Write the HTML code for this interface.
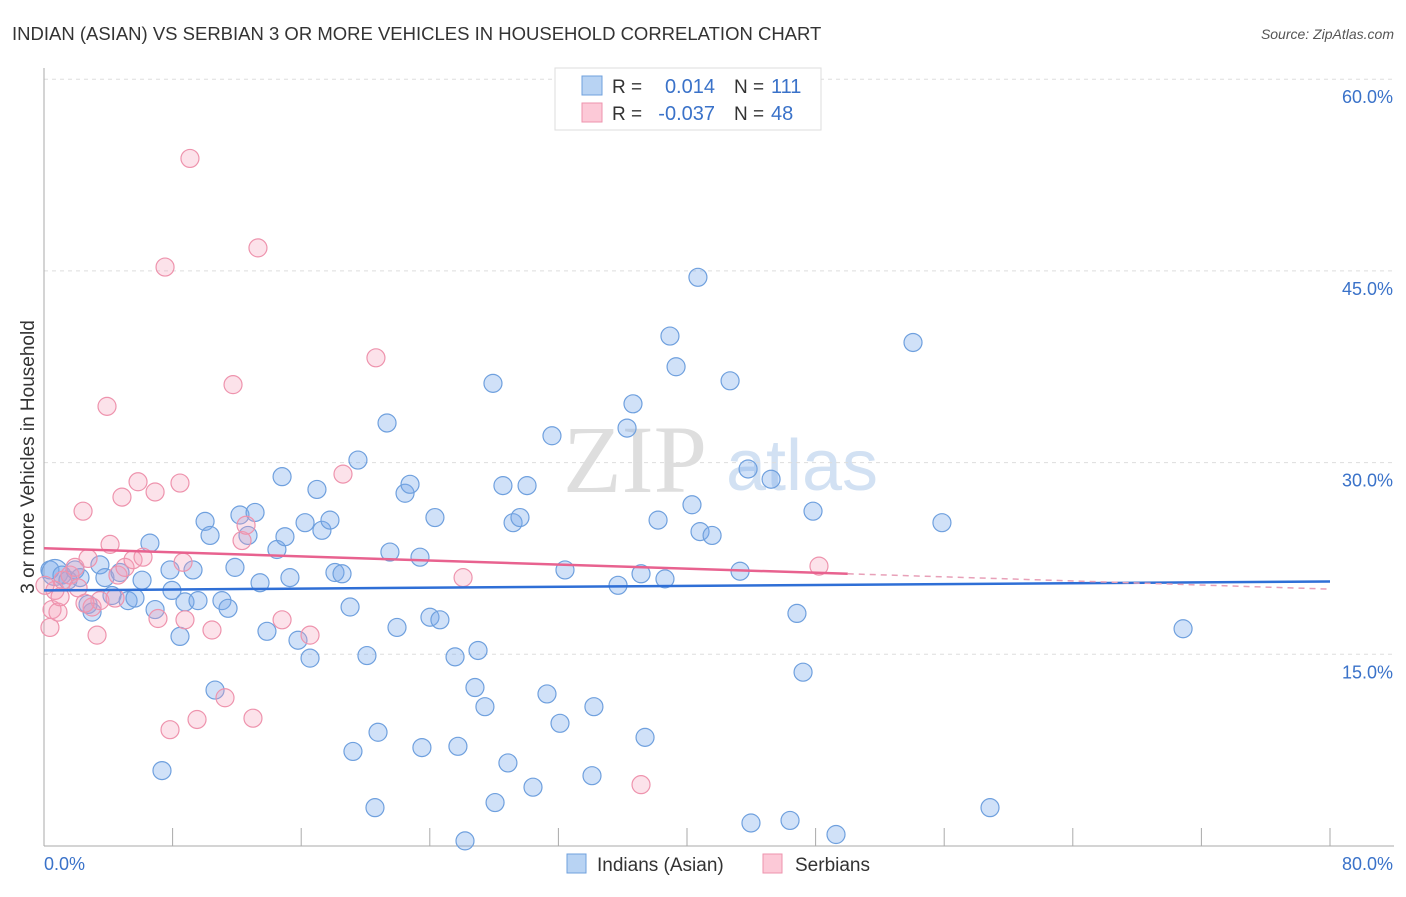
<!DOCTYPE html>
<html><head><meta charset="utf-8"><style>
body{margin:0;background:#fff;font-family:"Liberation Sans",sans-serif}
</style></head><body>
<svg id="c" width="1406" height="892" xmlns="http://www.w3.org/2000/svg" style="font-family:'Liberation Sans',sans-serif">
<text x="12" y="40" font-size="18.5" fill="#333">INDIAN (ASIAN) VS SERBIAN 3 OR MORE VEHICLES IN HOUSEHOLD CORRELATION CHART</text>
<text x="1394" y="39" font-size="14" fill="#555" font-style="italic" text-anchor="end">Source: ZipAtlas.com</text>
<g><text x="635" y="492" font-size="96" fill="#dedede" text-anchor="middle" font-family="Liberation Serif">ZIP</text><text x="802" y="490" font-size="72" fill="#d2e1f3" text-anchor="middle">atlas</text></g>
<g id="grid"></g><g id="axes"></g><g id="pts"></g><g id="trend"></g>
<text transform="translate(34,457) rotate(-90)" font-size="19" fill="#333" text-anchor="middle">3 or more Vehicles in Household</text>
<g>
<rect x="555" y="68" width="266" height="62" fill="#fff" stroke="#ddd"/>
<rect x="582" y="76" width="20" height="19" fill="#b8d3f3" stroke="#6fa0de"/>
<rect x="582" y="103" width="20" height="19" fill="#fcc9d7" stroke="#ee93ad"/>
<text x="612" y="93" font-size="19" fill="#333">R =</text><text x="715" y="93" font-size="20" fill="#3a72c9" text-anchor="end">0.014</text>
<text x="734" y="93" font-size="19" fill="#333">N =</text><text x="771" y="93" font-size="20" fill="#3a72c9">111</text>
<text x="612" y="120" font-size="19" fill="#333">R =</text><text x="715" y="120" font-size="20" fill="#3a72c9" text-anchor="end">-0.037</text>
<text x="734" y="120" font-size="19" fill="#333">N =</text><text x="771" y="120" font-size="20" fill="#3a72c9">48</text>
</g>
<g>
<rect x="567" y="854" width="19" height="19" fill="#b8d3f3" stroke="#6fa0de"/>
<text x="597" y="871" font-size="19" fill="#333">Indians (Asian)</text>
<rect x="763" y="854" width="19" height="19" fill="#fcc9d7" stroke="#ee93ad"/>
<text x="795" y="871" font-size="19" fill="#333">Serbians</text>
</g>
</svg>
<script>
const blueX=[0.37,0.68,1.12,1.49,1.93,2.24,2.74,2.99,3.48,3.79,4.23,4.73,5.23,5.66,6.10,6.59,6.91,7.34,7.84,7.96,8.46,8.77,9.27,9.58,10.02,10.33,10.64,11.07,11.45,11.88,12.19,12.69,13.13,13.44,13.87,14.49,14.81,14.99,15.30,15.80,16.24,16.55,16.98,17.29,17.79,18.10,18.54,19.04,19.22,19.53,20.09,20.59,20.78,21.34,21.52,21.96,22.46,22.77,23.39,23.51,24.01,24.32,24.63,25.57,25.75,26.19,26.81,27.00,27.43,27.93,28.06,28.55,28.86,29.18,29.61,30.05,30.42,31.29,31.60,32.10,32.41,34.21,34.09,35.71,36.27,36.64,37.14,37.39,38.20,38.63,38.94,39.32,40.31,40.68,40.81,41.56,42.68,43.30,43.80,43.98,45.23,46.41,46.84,47.22,47.84,49.27,54.06,55.86,58.85,70.86];
const blueY=[21.6,21.4,21.2,20.8,21.6,21.0,18.9,18.3,22.0,21.0,19.6,21.4,19.2,19.4,20.8,23.7,18.5,5.9,21.6,20.0,16.4,19.1,21.6,19.2,25.4,24.3,12.2,19.2,18.6,21.8,25.9,24.3,26.1,20.6,16.8,23.2,28.9,24.2,21.0,16.1,25.3,14.7,27.9,24.7,25.5,21.4,21.3,18.7,7.4,30.2,14.9,3.0,8.9,33.1,23.0,17.1,27.6,28.3,22.6,7.7,17.9,25.7,17.7,14.8,7.8,0.4,12.4,15.3,10.9,36.2,3.4,28.2,6.5,25.3,25.7,28.2,4.6,11.9,32.1,9.6,21.6,10.9,5.5,20.4,32.7,34.6,21.3,8.5,25.5,20.9,39.9,37.5,26.7,44.5,24.6,24.3,36.4,21.5,29.5,1.8,28.7,2.0,18.2,13.6,26.2,0.9,39.4,25.3,3.0,17.0];
const pinkX=[0.37,0.50,0.68,0.87,1.18,1.62,1.93,2.12,2.43,2.74,2.99,3.30,3.48,3.92,4.11,4.42,4.60,4.85,5.04,5.54,5.85,6.16,6.91,7.09,7.53,7.84,8.46,8.65,8.77,9.08,9.52,10.45,11.26,11.76,12.32,12.57,13.00,13.31,14.81,16.55,18.60,20.65,26.07,37.14,48.21,0.06,1.00,2.55];
const pinkY=[17.1,18.5,20.0,18.3,20.8,21.2,21.8,20.2,26.2,22.5,18.7,16.5,19.2,34.4,23.6,19.4,21.2,27.3,21.8,22.4,28.5,22.6,27.7,17.8,45.3,9.1,28.4,22.2,17.7,53.8,9.9,16.9,11.6,36.1,23.9,25.1,10.0,46.8,17.7,16.5,29.1,38.2,21.0,4.8,21.9,20.4,19.5,19.0];
const yTicks=[15,30,45,60];
const yTickLabels=["15.0%","30.0%","45.0%","60.0%"];
const xTicks=[8,16,24,32,40,48,56,64,72,80];
const blueTrend=[20.0,20.7];
const pinkTrend=[23.3,20.1];
const pinkSolidEnd=50;
const NS="http://www.w3.org/2000/svg";
const X=v=>44+v*16.075, Y=v=>846-v*12.78;
function mk(t,a,p){const e=document.createElementNS(NS,t);for(const k in a)e.setAttribute(k,a[k]);p.appendChild(e);return e;}
const grid=document.getElementById('grid'),axes=document.getElementById('axes'),pts=document.getElementById('pts'),tr=document.getElementById('trend');
yTicks.forEach((v,i)=>{
 const l=mk('line',{x1:44,x2:1394,y1:Y(v),y2:Y(v),stroke:'#ddd','stroke-dasharray':'4,4'},grid);
 
 
 const t=mk('text',{x:1393,y:Y(v)+24,'font-size':18,fill:'#3a72c9','text-anchor':'end'},grid);
 t.textContent=yTickLabels[i];
 
 
});
const xa=mk('line',{x1:44,x2:1394,y1:846,y2:846,stroke:'#aaa'},axes);


const ya=mk('line',{x1:44,x2:44,y1:68,y2:846,stroke:'#aaa'},axes);


xTicks.forEach(v=>{const t=mk('line',{x1:X(v),x2:X(v),y1:828,y2:846,stroke:'#aaa'},axes);
 
 });
const x0=mk('text',{x:44,y:870,'font-size':18,fill:'#3a72c9'},axes);x0.textContent='0.0%';


const x1=mk('text',{x:1393,y:870,'font-size':18,fill:'#3a72c9','text-anchor':'end'},axes);x1.textContent='80.0%';


blueX.forEach((v,i)=>{const c=mk('circle',{cx:X(v),cy:Y(blueY[i]),r:i==1?13:9,fill:'rgba(120,170,235,0.35)',stroke:'#6fa0de','stroke-width':1.2},pts);
 
 });
pinkX.forEach((v,i)=>{const c=mk('circle',{cx:X(v),cy:Y(pinkY[i]),r:9,fill:'rgba(245,160,185,0.3)',stroke:'#ee93ad','stroke-width':1.2},pts);
 
 });
const bl=mk('line',{x1:X(0),x2:X(80),y1:Y(blueTrend[0]),y2:Y(blueTrend[1]),stroke:'#2f6fd6','stroke-width':2.5},tr);


const pm=pinkTrend[0]+(pinkTrend[1]-pinkTrend[0])*pinkSolidEnd/80;
const pl=mk('line',{x1:X(0),x2:X(pinkSolidEnd),y1:Y(pinkTrend[0]),y2:Y(pm),stroke:'#e8628f','stroke-width':2.5},tr);


const pd=mk('line',{x1:X(pinkSolidEnd),x2:X(80),y1:Y(pm),y2:Y(pinkTrend[1]),stroke:'#e8a0b8','stroke-width':1.5,'stroke-dasharray':'6,5'},tr);


</script>
</body></html>
